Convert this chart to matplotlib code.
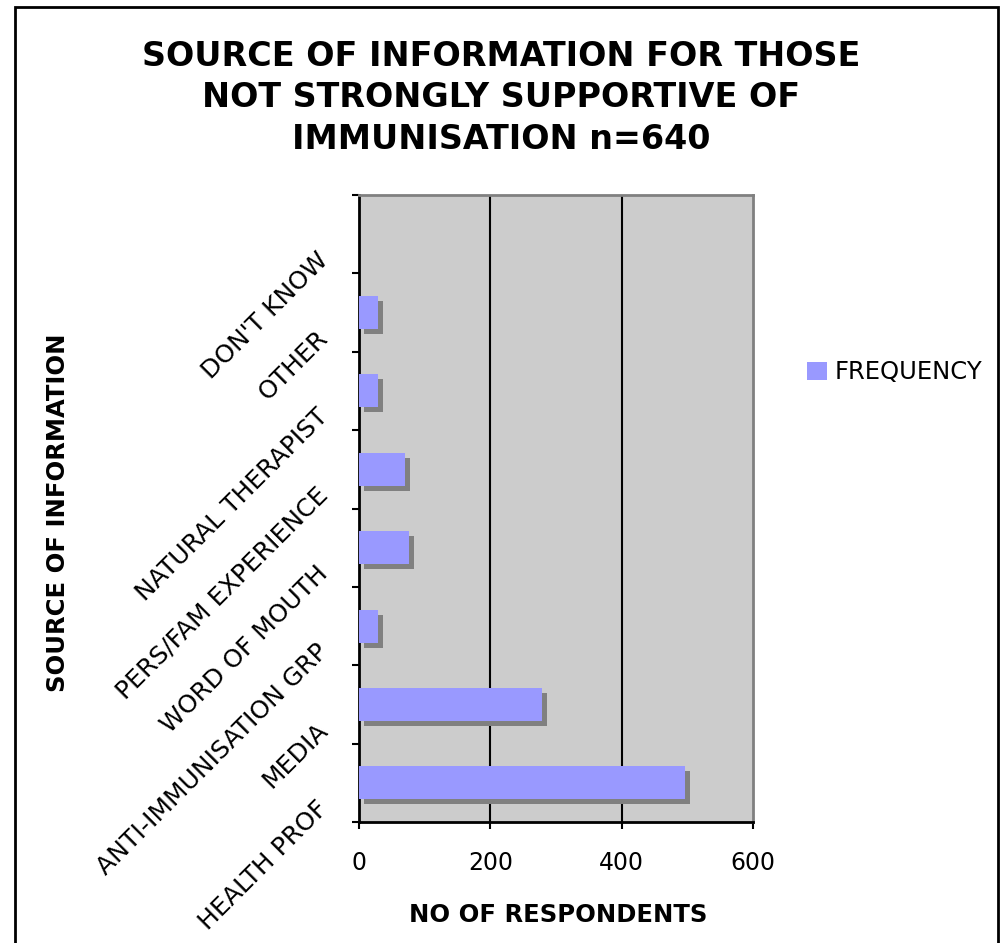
import matplotlib
matplotlib.use("Agg")
import matplotlib.pyplot as plt
import matplotlib.patheffects as pe
from matplotlib.patches import Rectangle, Patch
from matplotlib.transforms import ScaledTranslation

# Daten
categories = ["HEALTH PROF", "MEDIA", "ANTI-IMMUNISATION GRP", "WORD OF MOUTH",
              "PERS/FAM EXPERIENCE", "NATURAL THERAPIST", "OTHER", "DON'T KNOW"]
frequency = [496, 278, 29, 76, 70, 29, 29, 0]
x_ticks = [0, 200, 400, 600]

plt.rcParams["font.family"] = ["DejaVu Sans"]

fig = plt.figure(figsize=(10.03, 9.43), dpi=100)
ax = fig.add_axes([0.358, 0.1283, 0.3927, 0.6649])
ax.set_facecolor("#CCCCCC")

pos = list(range(len(categories)))
bars = ax.barh(pos, frequency, height=0.42, color="#9999FF", zorder=3)
for b in bars:
    b.set_path_effects([
        pe.SimplePatchShadow(offset=(3.6, -3.6), shadow_rgbFace="#808080", alpha=1.0),
        pe.Normal(),
    ])

ax.set_xlim(0, 600)
ax.set_ylim(-0.5, len(categories) - 0.5)
ax.set_xticks(x_ticks)
ax.set_xticklabels([str(v) for v in x_ticks], fontsize=17)
ax.tick_params(axis="x", length=5, width=1.5, pad=16, direction="out")

# Kategorien: Striche zwischen den Balken, Beschriftung in der Mitte
ax.set_yticks([p - 0.5 for p in pos] + [len(categories) - 0.5])
ax.set_yticklabels([])
ax.tick_params(axis="y", which="major", length=5, width=1.5, direction="out")
ax.set_yticks(pos, minor=True)
ax.set_yticklabels(categories, minor=True, fontsize=18, rotation=45,
                   rotation_mode="anchor", ha="right", va="center")
ax.tick_params(axis="y", which="minor", length=0, pad=25)
shift = ScaledTranslation(0, -0.22, fig.dpi_scale_trans)
for lab in ax.get_yticklabels(minor=True):
    lab.set_transform(lab.get_transform() + shift)

for v in [200, 400]:
    ax.axvline(v, color="black", lw=1.5, zorder=2)

for s in ["top", "right"]:
    ax.spines[s].set_color("#808080")
    ax.spines[s].set_linewidth(2)
for s in ["left", "bottom"]:
    ax.spines[s].set_color("black")
    ax.spines[s].set_linewidth(2)

ax.set_xlabel("NO OF RESPONDENTS", fontsize=17.5, fontweight="bold")
ax.xaxis.set_label_coords(0.505, -0.129)
ax.set_ylabel("SOURCE OF INFORMATION", fontsize=17.5, fontweight="bold")
ax.yaxis.set_label_coords(-0.733, 0.494)

fig.text(0.5, 0.958, "SOURCE OF INFORMATION FOR THOSE\nNOT STRONGLY SUPPORTIVE OF\nIMMUNISATION n=640",
         ha="center", va="top", fontsize=24, fontweight="bold", linespacing=1.34)

fig.legend(handles=[Patch(facecolor="#9999FF", label="FREQUENCY")],
           loc="center left", bbox_to_anchor=(0.805, 0.605), frameon=False,
           fontsize=17.5, handlelength=0.8, handleheight=0.8, handletextpad=0.3,
           borderpad=0, borderaxespad=0)

fig.patches.append(Rectangle((0.015, -0.02), 0.98, 1.0126, transform=fig.transFigure,
                             fill=False, edgecolor="black", lw=2))

fig.savefig("out.png", dpi=100)
